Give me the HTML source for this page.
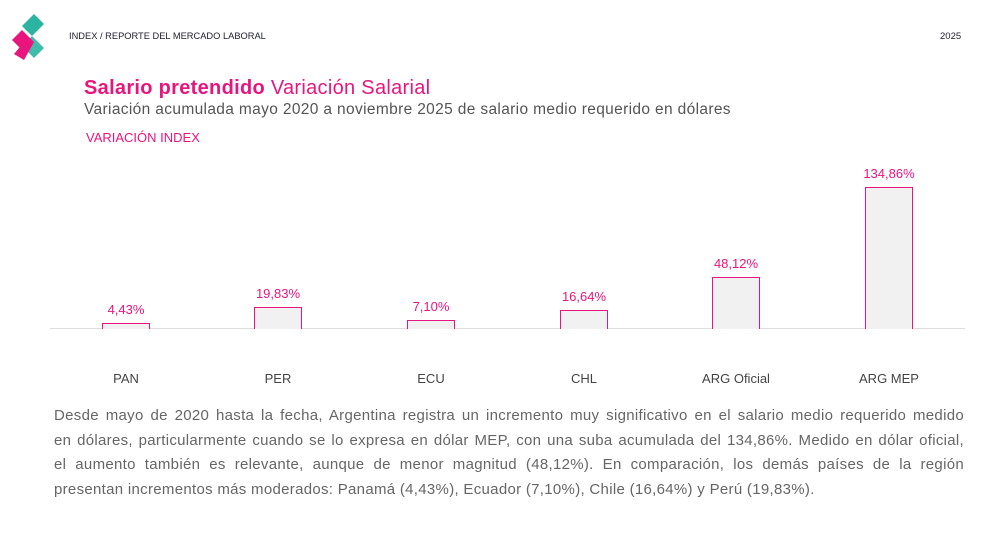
<!DOCTYPE html>
<html><head><meta charset="utf-8"><style>
body{margin:0;width:1000px;height:543px;background:#fff;font-family:"Liberation Sans",sans-serif;position:relative;overflow:hidden}
.a{position:absolute;white-space:nowrap}
.bar{position:absolute;width:46px;border:1.5px solid #e8157f;border-bottom:none;background:#f1f1f1}
.v{position:absolute;width:120px;text-align:center;color:#e8157f;font-size:13px}
.c{position:absolute;width:160px;text-align:center;color:#444;font-size:13px;top:371px}
.p{position:absolute;left:54px;width:910px;font-size:15px;letter-spacing:0.3px;color:#666;text-align:justify;text-align-last:justify;white-space:nowrap}
</style></head><body>
<svg class="a" style="left:10px;top:12px" width="36" height="50" viewBox="0 0 36 50">
<path d="M24 2 L34 12 L22 24 L12 14Z" fill="#2bb5a0"/>
<path d="M22 24 L34 36 L24 46 L12 34Z" fill="#2bb5a0" opacity="0.9"/>
<path d="M12 18 L24 30 L14 40 L2 28Z" fill="#e8157f"/>
<path d="M24 30 L14 48 L4 42 L14 30Z" fill="#e8157f"/>
</svg>
<div class="a" style="left:69px;top:31px;font-size:9.3px;color:#223">INDEX / REPORTE DEL MERCADO LABORAL</div>
<div class="a" style="left:940px;top:31px;font-size:9.5px;color:#223">2025</div>
<div class="a" style="left:84px;top:77px;font-size:20px;letter-spacing:0.3px;color:#e8157f"><b>Salario pretendido</b> Variación Salarial</div>
<div class="a" style="left:84px;top:101px;font-size:15.5px;letter-spacing:0.35px;color:#555">Variación acumulada mayo 2020 a noviembre 2025 de salario medio requerido en dólares</div>
<div class="a" style="left:86px;top:130px;font-size:13px;color:#e8157f">VARIACIÓN INDEX</div>
<div class="a" style="left:50px;top:328px;width:915px;height:1px;background:#ddd"></div>
<div class="bar" style="left:102px;top:323px;height:5px"></div>
<div class="bar" style="left:254px;top:307px;height:21px"></div>
<div class="bar" style="left:407px;top:320px;height:8px"></div>
<div class="bar" style="left:560px;top:310px;height:18px"></div>
<div class="bar" style="left:712px;top:277px;height:51px"></div>
<div class="bar" style="left:865px;top:187px;height:141px"></div>
<div class="v" style="left:66px;top:302px">4,43%</div>
<div class="v" style="left:218px;top:286px">19,83%</div>
<div class="v" style="left:371px;top:299px">7,10%</div>
<div class="v" style="left:524px;top:289px">16,64%</div>
<div class="v" style="left:676px;top:256px">48,12%</div>
<div class="v" style="left:829px;top:166px">134,86%</div>
<div class="c" style="left:46px">PAN</div>
<div class="c" style="left:198px">PER</div>
<div class="c" style="left:351px">ECU</div>
<div class="c" style="left:504px">CHL</div>
<div class="c" style="left:656px">ARG Oficial</div>
<div class="c" style="left:809px">ARG MEP</div>
<div class="p" style="top:407px">Desde mayo de 2020 hasta la fecha, Argentina registra un incremento muy significativo en el salario medio requerido medido</div>
<div class="p" style="top:432px">en dólares, particularmente cuando se lo expresa en dólar MEP, con una suba acumulada del 134,86%. Medido en dólar oficial,</div>
<div class="p" style="top:456px">el aumento también es relevante, aunque de menor magnitud (48,12%). En comparación, los demás países de la región</div>
<div class="p" style="top:481px;text-align-last:left">presentan incrementos más moderados: Panamá (4,43%), Ecuador (7,10%), Chile (16,64%) y Perú (19,83%).</div>
</body></html>
